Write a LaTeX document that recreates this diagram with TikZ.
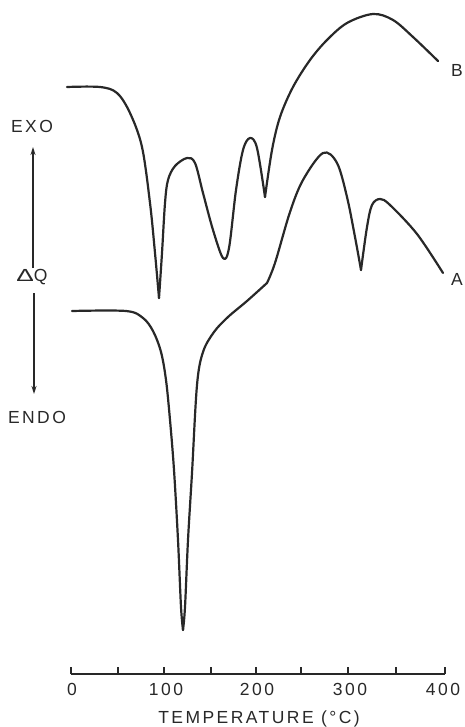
\documentclass[tikz,border=0pt]{standalone}
\usepackage{fontspec}
\usepackage{graphicx}
\setmainfont{Liberation Sans}[LetterSpace=14]
\usetikzlibrary{arrows.meta}
\definecolor{ink}{RGB}{40,40,40}
\tikzset{
  curve/.style={ink, line width=2.2pt, line join=round, line cap=round},
  lbl/.style={ink, inner sep=0pt, font=\fontsize{17.5}{20}\selectfont},
  axisline/.style={ink, line width=1.3pt},
  tick/.style={ink, line width=1.1pt},
  arr/.style={ink, line width=1.3pt, -{Stealth[length=8pt,width=5pt]}}
}
\begin{document}
\begin{tikzpicture}[x=1pt,y=-1pt]
\useasboundingbox (0,0) rectangle (465,727);

% curve B
\draw[curve] plot[smooth, tension=0.55] coordinates {(67,87) (100,87) (117,93) (130,113) (142,147) (150,203) (155,253) (159,298)};
\draw[curve] plot[smooth, tension=0.55] coordinates {(159,298) (162,253) (165,203) (168,180) (175,166) (187,158) (195,163) (203,193) (213,230) (223,258) (229,248) (236,190) (243,150) (250,138) (257,148) (265,197)};
\draw[curve] plot[smooth, tension=0.55] coordinates {(265,197) (272,150) (280,117) (293,87) (310,60) (327,40) (347,23) (373,14) (393,20) (413,37) (438,61)};

% curve A
\draw[curve] plot[smooth, tension=0.55] coordinates {(72,311) (126,311) (143,318) (153,331) (161,352) (166,380) (170,420) (174,470) (178,540) (181,607) (183,630)};
\draw[curve] plot[smooth, tension=0.55] coordinates {(183,630) (185,607) (188,540) (192,473) (197,385) (203,352) (214,332) (228,317) (247,301) (267,283)};
\draw[curve] plot[smooth, tension=0.55] coordinates {(267,283) (275,263) (290,212) (303,180) (323,153) (337,163) (347,197) (355,237) (361,270)};
\draw[curve] plot[smooth, tension=0.55] coordinates {(361,270) (367,227) (372,205) (380,199) (390,205) (417,234) (443,273)};

% curve labels
\node[lbl] (labB) at (457,70) {B};
\node[lbl] (labA) at (457,279) {A};

% y-axis labels and arrows
\node[lbl] (exo) at (32,126) {EXO};
\node[lbl] (dq) at (32,277) {\scalebox{1.5}[1.0]{Δ}Q};
\node[lbl] (endo) at (37,417) {ENDO};
\coordinate (upS) at (33,268);
\coordinate (upE) at (33,147);
\coordinate (dnS) at (34,293);
\coordinate (dnE) at (34,394);
\draw[arr] (upS) -- (upE);
\draw[arr] (dnS) -- (dnE);

% x axis
\coordinate (ax0) at (71,674);
\coordinate (ax400) at (445,674);
\draw[axisline] (ax0) -- (ax400);
\foreach \x in {71,118,164,211,256,301,348,396,445}
  \draw[tick] (\x,674) -- (\x,667);
\node[lbl] (t0) at (72,689) {0};
\node[lbl] (t100) at (166,689) {100};
\node[lbl] (t200) at (257,689) {200};
\node[lbl] (t300) at (350,689) {300};
\node[lbl] (t400) at (443,689) {400};
\node[lbl] (xlabel) at (259,719) {TEMPERATURE (°C)};
\end{tikzpicture}
\end{document}
